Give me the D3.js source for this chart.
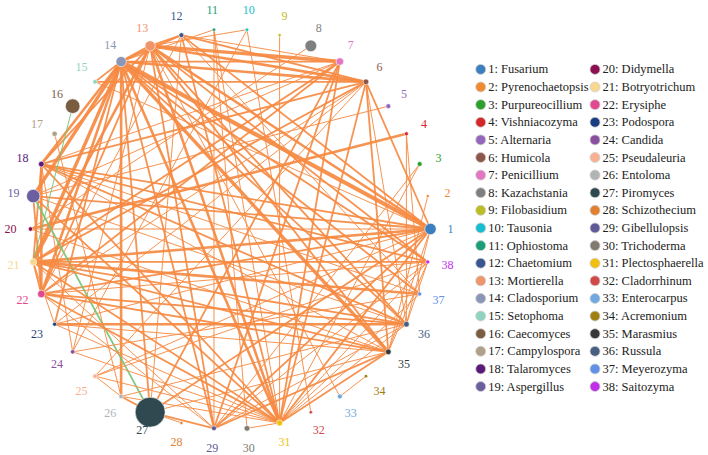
<!DOCTYPE html>
<html>
<head>
<meta charset="utf-8">
<script src="https://cdn.jsdelivr.net/npm/d3@7"></script>
<style>
  html, body { margin: 0; padding: 0; background: #fff; }
  svg { display: block; }
  svg text { font-family: 'Liberation Serif', 'Times New Roman', Times, 'DejaVu Serif', serif; }
</style>
</head>
<body>
<svg id="chart" width="708" height="455"></svg>
<script>
// Genera (node order around the circle, counter-clockwise from the right)
const genera = [
  'Fusarium', 'Pyrenochaetopsis', 'Purpureocillium', 'Vishniacozyma', 'Alternaria',
  'Humicola', 'Penicillium', 'Kazachstania', 'Filobasidium', 'Tausonia',
  'Ophiostoma', 'Chaetomium', 'Mortierella', 'Cladosporium', 'Setophoma',
  'Caecomyces', 'Campylospora', 'Talaromyces', 'Aspergillus', 'Didymella',
  'Botryotrichum', 'Erysiphe', 'Podospora', 'Candida', 'Pseudaleuria',
  'Entoloma', 'Piromyces', 'Schizothecium', 'Gibellulopsis', 'Trichoderma',
  'Plectosphaerella', 'Cladorrhinum', 'Enterocarpus', 'Acremonium', 'Marasmius',
  'Russula', 'Meyerozyma', 'Saitozyma'
];

// Relative abundance of each node (drives circle size)
const abundance = [
  3.2, 0.2, 0.6, 0.4, 0.6, 0.8, 1.4, 3.4, 0.2, 0.3,
  0.3, 0.6, 2.6, 2.6, 0.5, 5.2, 0.7, 0.8, 4.4, 0.5,
  1.2, 1.4, 0.4, 0.5, 0.5, 0.5, 22, 0.2, 0.6, 0.8,
  0.9, 0.3, 0.6, 0.3, 0.8, 0.8, 0.4, 0.4
];

// Node colours, same order as genera
const palette = [
  '#3a7fbf', '#f08a30', '#2ca02c', '#d62728', '#9467bd',
  '#8c564b', '#e377c2', '#7f7f7f', '#bcbd22', '#17becf',
  '#1b9e77', '#3a5590', '#f0946a', '#8a96b8', '#8fd4c0',
  '#7a5c40', '#b0a088', '#5a1a78', '#6a60a0', '#8b1050',
  '#f8d890', '#e04890', '#1a3f80', '#8a50a0', '#f8b090',
  '#b0b4b4', '#304850', '#e08030', '#605a98', '#807a70',
  '#f0c010', '#d04848', '#70a8e0', '#a08010', '#383838',
  '#486080', '#6090e8', '#c030e8'
];

// Co-occurrence links: [source, target, strength, sign]  (numbers are node ids, 1-based)
const links = [
  [14,1,5,1],[14,13,3,1],[14,12,2,1],[14,15,2,1],[14,6,3,1],[14,7,2,1],[14,18,3,1],
  [14,19,4,1],[14,21,4,1],[14,22,3,1],[14,23,2,1],[14,26,3,1],[14,29,2,1],[14,31,3,1],
  [14,35,4,1],[14,36,2,1],[14,38,2,1],[14,37,2,1],[14,27,2,1],[14,11,1,1],
  [13,12,2,1],[13,7,4,1],[13,6,3,1],[13,1,3,1],[13,18,2,1],[13,21,3,1],[13,22,2,1],
  [13,24,1,1],[13,29,2,1],[13,31,3,1],[13,35,2,1],[13,36,2,1],[13,38,2,1],[13,10,1,1],
  [13,33,1,1],
  [12,6,2,1],[12,1,2,1],[12,31,2,1],[12,7,1,1],[12,27,1,1],[12,37,1,1],[12,22,1,1],
  [11,31,1,1],[11,29,1,1],
  [10,32,1,1],[10,24,1,1],
  [9,31,1,1],
  [8,20,1,1],
  [7,31,2,1],[7,29,2,1],[7,27,2,1],[7,22,2,1],[7,18,1,1],[7,21,2,1],[7,19,1,1],
  [6,15,2,1],[6,1,2,1],[6,36,1,1],[6,35,2,1],[6,21,2,1],[6,18,2,1],[6,22,1,1],
  [6,31,2,1],[6,25,1,1],[6,23,1,1],
  [5,19,1,1],
  [4,20,3,1],[4,37,1,1],[4,36,1,1],
  [3,31,1,1],[3,29,1,1],
  [2,35,1,1],
  [1,18,2,1],[1,19,2,1],[1,21,3,1],[1,22,2,1],[1,20,1,1],[1,29,2,1],[1,31,2,1],
  [1,23,1,1],[1,25,1,1],[1,35,1,1],[1,27,2,1],[1,36,1,1],[1,15,1,1],
  [18,22,3,1],[18,21,2,1],[18,38,2,1],[18,36,2,1],[18,37,1,1],[18,31,2,1],[18,35,1,1],
  [18,24,1,1],
  [19,27,2,-1],[19,22,2,1],[19,36,1,1],[19,31,2,1],
  [16,21,1,-1],
  [17,26,1,1],
  [20,35,1,1],
  [21,37,3,1],[21,35,2,1],[21,38,2,1],[21,36,2,1],[21,31,2,1],[21,22,2,1],[21,29,1,1],
  [21,23,1,1],
  [22,36,2,1],[22,31,2,1],[22,35,2,1],[22,38,1,1],[22,29,1,1],
  [23,36,3,1],[23,31,1,1],[23,35,1,1],
  [24,31,1,1],[24,37,1,1],
  [25,26,1,1],[25,31,1,1],[25,38,1,1],
  [26,27,2,1],[26,36,1,1],[26,31,1,1],
  [27,28,1,1],[27,29,2,1],[27,35,1,1],
  [29,35,2,1],[29,38,1,1],[29,36,1,1],
  [30,31,1,1],[30,11,1,1],
  [31,35,2,1],[31,36,1,1],[31,38,1,1],[31,37,1,1],
  [33,34,1,1],
  [35,38,1,1],
  [36,38,1,1]
];

const svg = d3.select('#chart');
const cx = 230.5, cy = 229, radius = 200, labelRadius = 220;

// Angle for each node, starting at 3 o'clock and going counter-clockwise
const angle = d3.scaleLinear().domain([0, genera.length]).range([0, 2 * Math.PI]);
const nodes = genera.map((name, i) => ({
  id: i + 1,
  name,
  value: abundance[i],
  color: palette[i],
  x: cx + radius * Math.cos(angle(i)),
  y: cy - radius * Math.sin(angle(i)),
  lx: cx + labelRadius * Math.cos(angle(i)),
  ly: cy - labelRadius * Math.sin(angle(i))
}));

const size = d3.scaleSqrt().domain([0, d3.max(abundance)]).range([0, 15]);
const width = d3.scaleLinear().domain([1, 5]).range([1, 4.2]);

// Draw links
svg.append('g')
  .selectAll('line')
  .data(links)
  .join('line')
  .attr('x1', d => nodes[d[0] - 1].x)
  .attr('y1', d => nodes[d[0] - 1].y)
  .attr('x2', d => nodes[d[1] - 1].x)
  .attr('y2', d => nodes[d[1] - 1].y)
  .attr('stroke', d => d[3] > 0 ? '#f68a42' : '#74c476')
  .attr('stroke-opacity', 0.92)
  .attr('stroke-width', d => width(d[2]));

// Draw nodes
svg.append('g')
  .selectAll('circle')
  .data(nodes)
  .join('circle')
  .attr('cx', d => d.x)
  .attr('cy', d => d.y)
  .attr('r', d => Math.max(1.6, size(d.value)))
  .attr('fill', d => d.color)
  .attr('stroke', '#fff')
  .attr('stroke-width', 0.6);

// Node labels
svg.append('g')
  .selectAll('text')
  .data(nodes)
  .join('text')
  .attr('x', d => d.lx)
  .attr('y', d => d.ly)
  .attr('text-anchor', 'middle')
  .attr('dominant-baseline', 'central')
  .attr('font-size', 12)
  .attr('fill', d => d.color)
  .text(d => d.id);

// Legend in two columns
const perCol = 19;
const legend = svg.append('g')
  .selectAll('g')
  .data(nodes)
  .join('g')
  .attr('transform', (d, i) => {
    const col = Math.floor(i / perCol);
    const row = i % perCol;
    return `translate(${480.7 + col * 114.3},${69.4 + row * 17.62})`;
  });

legend.append('circle')
  .attr('r', 5)
  .attr('fill', d => d.color)
  .attr('stroke', '#d0d0d0')
  .attr('stroke-width', 0.8);

legend.append('text')
  .attr('x', 7.5)
  .attr('dominant-baseline', 'central')
  .attr('font-size', 12.5)
  .attr('fill', '#222')
  .text(d => `${d.id}: ${d.name}`);
</script>
</body>
</html>
